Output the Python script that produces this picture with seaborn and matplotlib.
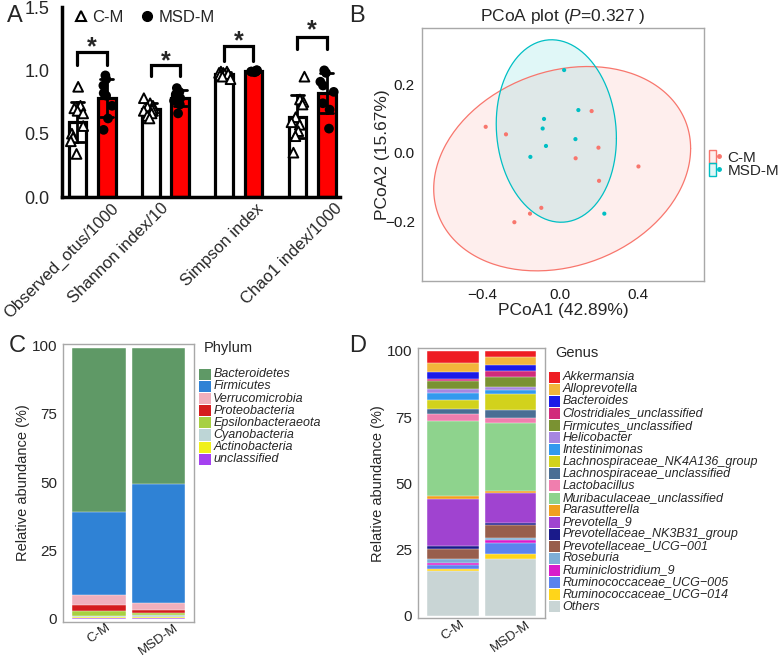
import numpy as np
import pandas as pd
import matplotlib
matplotlib.use('Agg')
import matplotlib.pyplot as plt
import seaborn as sns
from matplotlib.lines import Line2D
from matplotlib.patches import Patch, Rectangle
from matplotlib.legend_handler import HandlerTuple
import matplotlib.transforms as mtransforms
from matplotlib.colors import to_rgba

sns.set_theme(style='white')
plt.rcParams['font.family'] = ['Liberation Sans', 'DejaVu Sans']
plt.rcParams['mathtext.fontset'] = 'custom'
plt.rcParams['mathtext.rm'] = 'Liberation Sans'
plt.rcParams['mathtext.it'] = 'Liberation Sans:italic'

W, H = 779, 659

# ---------------- data: panel A (alpha diversity) ----------------
groups = ['C-M', 'MSD-M']
metrics = ['Observed_otus/1000', 'Shannon index/10', 'Simpson index', 'Chao1 index/1000']
cm_observed = [0.87, 0.72, 0.70, 0.68, 0.66, 0.56, 0.50, 0.47, 0.44, 0.34]
msd_observed = [0.96, 0.93, 0.88, 0.82, 0.80, 0.72, 0.62, 0.53]
cm_shannon = [0.78, 0.74, 0.72, 0.71, 0.70, 0.69, 0.68, 0.66, 0.64, 0.62]
msd_shannon = [0.86, 0.83, 0.81, 0.80, 0.78, 0.76, 0.73, 0.66]
cm_simpson = [0.99, 0.99, 0.98, 0.98, 0.97, 0.97, 0.96, 0.96, 0.95, 0.93]
msd_simpson = [1.0, 1.0, 0.995, 0.995, 0.99, 0.99, 0.99, 0.985]
cm_chao1 = [0.95, 0.77, 0.75, 0.73, 0.63, 0.59, 0.57, 0.52, 0.48, 0.35]
msd_chao1 = [1.00, 0.98, 0.91, 0.88, 0.83, 0.74, 0.69, 0.54]
sig_labels = ['*', '*', '*', '*']
bracket_top = [1.145, 1.04, 1.19, 1.265]
bracket_leg = [1.04, 0.955, 1.07, 1.17]
star_y = [1.24, 1.13, 1.29, 1.37]

# ---------------- data: panel B (PCoA) ----------------
cm_pc1 = [-0.381, -0.277, 0.162, 0.197, 0.080, 0.402, 0.200, -0.096, -0.154, -0.234]
cm_pc2 = [0.076, 0.054, 0.122, 0.015, -0.016, -0.040, -0.082, -0.161, -0.178, -0.203]
msd_pc1 = [0.021, 0.094, -0.082, -0.089, 0.079, -0.072, -0.152, 0.227]
msd_pc2 = [0.242, 0.125, 0.099, 0.071, 0.040, 0.020, -0.012, -0.178]
pcoa_title = r'PCoA plot ($\mathit{P}$=0.327 )'
pc1_label = 'PCoA1 (42.89%)'
pc2_label = 'PCoA2 (15.67%)'

# ---------------- data: panel C (phylum) ----------------
samples = ['C-M', 'MSD-M']
phyla = ['Bacteroidetes', 'Firmicutes', 'Verrucomicrobia', 'Proteobacteria',
         'Epsilonbacteraeota', 'Cyanobacteria', 'Actinobacteria', 'unclassified']
phylum_cm = [60.0, 30.3, 3.4, 2.4, 1.6, 0.6, 0.45, 0.15]
phylum_msd = [49.5, 43.6, 2.4, 1.4, 0.7, 0.6, 0.3, 0.4]
phylum_colors = ['#5F9966', '#2F82D5', '#F0AFBC', '#D51C1E', '#A7D042',
                 '#BDD5D6', '#F0F01C', '#A541F0']

# ---------------- data: panel D (genus) ----------------
genera = ['Akkermansia', 'Alloprevotella', 'Bacteroides', 'Clostridiales_unclassified',
          'Firmicutes_unclassified', 'Helicobacter', 'Intestinimonas',
          'Lachnospiraceae_NK4A136_group', 'Lachnospiraceae_unclassified', 'Lactobacillus',
          'Muribaculaceae_unclassified', 'Parasutterella', 'Prevotella_9',
          'Prevotellaceae_NK3B31_group', 'Prevotellaceae_UCG\u2212001', 'Roseburia',
          'Ruminiclostridium_9', 'Ruminococcaceae_UCG\u2212005', 'Ruminococcaceae_UCG\u2212014',
          'Others']
genus_cm = [4.4, 3.4, 2.8, 0.7, 3.0, 1.7, 2.5, 3.5, 1.9, 2.5, 28.4, 1.1, 17.7,
            1.2, 3.7, 1.5, 0.9, 1.5, 0.9, 16.7]
genus_msd = [2.4, 2.9, 2.2, 2.3, 4.0, 1.0, 1.5, 6.2, 2.9, 1.9, 25.7, 0.5, 11.5,
             0.7, 4.8, 0.9, 1.3, 3.9, 2.0, 21.4]
genus_colors = ['#EE1D23', '#F2B53B', '#1B1BE8', '#D12B7B', '#7A9232', '#A686E0',
                '#3399EE', '#D2D21C', '#4A6E94', '#F07EAE', '#8ED38D', '#F0A01E',
                '#A043D0', '#1A1A8A', '#985E4C', '#7EAED6', '#D81CCB', '#5B83EE',
                '#FFD51A', '#C9D5D5']

fig = plt.figure(figsize=(W / 100, H / 100), dpi=100)


def fax(left, top, right, bottom):
    return fig.add_axes([left / W, 1 - bottom / H, (right - left) / W, (bottom - top) / H])


# ======================= Panel A =======================
axA = fax(62, 7, 340, 197)
rows = []
for metric, cm_vals, msd_vals in zip(metrics,
                                     [cm_observed, cm_shannon, cm_simpson, cm_chao1],
                                     [msd_observed, msd_shannon, msd_simpson, msd_chao1]):
    rows += [(metric, 'C-M', v) for v in cm_vals]
    rows += [(metric, 'MSD-M', v) for v in msd_vals]
dfA = pd.DataFrame(rows, columns=['metric', 'group', 'value'])

sns.barplot(data=dfA, x='metric', y='value', hue='group', order=metrics, hue_order=groups,
            palette={'C-M': 'white', 'MSD-M': '#FF0000'}, saturation=1, errorbar='sd',
            capsize=0.35, err_kws={'color': 'black', 'linewidth': 2.0},
            edgecolor='black', linewidth=2.3, gap=0.4, legend=False, ax=axA)
np.random.seed(3)
sns.stripplot(data=dfA[dfA.group == 'C-M'], x='metric', y='value', hue='group',
              order=metrics, hue_order=groups, dodge=True, jitter=0.2,
              palette={'C-M': 'white', 'MSD-M': 'black'}, marker='^', size=7,
              edgecolor='black', linewidth=1.4, legend=False, ax=axA, zorder=3)
sns.stripplot(data=dfA[dfA.group == 'MSD-M'], x='metric', y='value', hue='group',
              order=metrics, hue_order=groups, dodge=True, jitter=0.2,
              palette={'C-M': 'white', 'MSD-M': 'black'}, marker='o', size=7,
              linewidth=0, legend=False, ax=axA, zorder=3)

for i in range(len(metrics)):
    axA.plot([i - 0.2, i - 0.2, i + 0.2, i + 0.2],
             [bracket_leg[i], bracket_top[i], bracket_top[i], bracket_leg[i]],
             color='black', lw=2.3, solid_joinstyle='miter', clip_on=False, zorder=4)
    st = axA.transData + mtransforms.ScaledTranslation(0, -0.57 * 18 / 72, fig.dpi_scale_trans)
    axA.text(i, star_y[i], sig_labels[i], transform=st, ha='center', va='baseline',
             fontsize=18, fontweight='bold', clip_on=False)

axA.set_xlim(-0.41, 3.38)
axA.set_ylim(0, 1.5)
axA.set_yticks([0, 0.5, 1.0, 1.5])
axA.set_yticklabels(['0.0', '0.5', '1.0', '1.5'], fontsize=13)
axA.set_xticks(range(len(metrics)))
axA.set_xticklabels([])
axA.tick_params(axis='y', direction='out', length=7, width=2.2, color='black', pad=2)
axA.tick_params(axis='x', direction='in', length=8, width=2.2, color='black')
for s in ['top', 'right']:
    axA.spines[s].set_visible(False)
for s in ['left', 'bottom']:
    axA.spines[s].set_linewidth(2.5)
    axA.spines[s].set_color('black')
axA.set_xlabel('')
axA.set_ylabel('')
label_offsets = [0.33, 0.0, 0.31, 0.37]
tA = mtransforms.blended_transform_factory(axA.transData, axA.transAxes)
for i, (lab, off) in enumerate(zip(metrics, label_offsets)):
    axA.text(i + off, -0.047, lab, transform=tA, rotation=45, rotation_mode='anchor',
             ha='right', va='center', fontsize=12)
hA = [Line2D([], [], marker='^', ls='', mfc='white', mec='black', mew=1.5, ms=7),
      Line2D([], [], marker='o', ls='', color='black', ms=7)]
axA.legend(hA, groups, ncol=2, loc='center left', bbox_to_anchor=(74 / W, 1 - 17 / H),
           bbox_transform=fig.transFigure, fontsize=12, frameon=False, handlelength=0.8,
           handletextpad=0.3, columnspacing=1.0, borderpad=0, borderaxespad=0)

# ======================= Panel B =======================
axB = fax(421.7, 28, 704, 281)
dfB = pd.DataFrame({'PC1': cm_pc1 + msd_pc1, 'PC2': cm_pc2 + msd_pc2,
                    'group': ['C-M'] * len(cm_pc1) + ['MSD-M'] * len(msd_pc1)})
pal = {'C-M': '#F8766D', 'MSD-M': '#00BFC4'}


def cov_trob(x, nu=5, maxit=25, tol=0.01):
    n, p = x.shape
    wt = np.ones(n)
    loc = x.mean(axis=0)
    w = np.sqrt(wt)
    X = x - loc
    for _ in range(maxit):
        w0 = w
        X = x - loc
        _, d, vt = np.linalg.svd(np.sqrt(w / w.sum())[:, None] * X, full_matrices=False)
        wX = X @ vt.T @ np.diag(1 / d)
        Q = (wX ** 2).sum(axis=1)
        w = (wt * (nu + p)) / (nu + Q)
        loc = (w[:, None] * x).sum(axis=0) / w.sum()
        if np.all(np.abs(w - w0) < tol):
            break
    sw = np.sqrt(w)[:, None] * X
    return loc, sw.T @ sw / wt.sum()


def ellipse_pts(x, level=0.95, seg=200):
    center, shape = cov_trob(x)
    dfd = x.shape[0] - 1
    fq = (dfd / 2.0) * ((1 - level) ** (-2.0 / dfd) - 1)
    radius = np.sqrt(2 * fq)
    R = np.linalg.cholesky(shape).T
    ang = np.linspace(0, 2 * np.pi, seg + 1)
    circ = np.column_stack([np.cos(ang), np.sin(ang)])
    return center + radius * circ @ R


for g in groups:
    sub = dfB[dfB.group == g][['PC1', 'PC2']].to_numpy()
    e = ellipse_pts(sub)
    axB.fill(e[:, 0], e[:, 1], color=pal[g], alpha=0.12, lw=0, zorder=1)
for g in groups:
    sub = dfB[dfB.group == g][['PC1', 'PC2']].to_numpy()
    e = ellipse_pts(sub)
    axB.plot(e[:, 0], e[:, 1], color=pal[g], lw=0.9, zorder=2)
sns.scatterplot(data=dfB, x='PC1', y='PC2', hue='group', palette=pal, s=9,
                linewidth=0, legend=False, ax=axB, zorder=3)
axB.set_xlim(-0.709, 0.738)
axB.set_ylim(-0.375, 0.365)
axB.set_xticks([-0.4, 0.0, 0.4])
axB.set_xticklabels(['\u22120.4', '0.0', '0.4'], fontsize=11)
axB.set_yticks([-0.2, 0.0, 0.2])
axB.set_yticklabels(['\u22120.2', '0.0', '0.2'], fontsize=11)
axB.tick_params(axis='both', direction='out', length=3, width=0.8, color='#9a9a9a', pad=2,
                labelcolor='#1a1a1a')
for s in axB.spines.values():
    s.set_color('#a8a8a8')
    s.set_linewidth(1.0)
axB.set_xlabel(pc1_label, fontsize=12.5, labelpad=1)
axB.set_ylabel(pc2_label, fontsize=12.5, labelpad=-4)
axB.set_title(pcoa_title, fontsize=12.5, pad=5)
hB = [(Patch(facecolor=to_rgba(pal[g], 0.12), edgecolor=pal[g], lw=1.0),
       Line2D([], [], marker='o', ls='', color=pal[g], ms=2.5)) for g in groups]
axB.legend(hB, groups, loc='center left', bbox_to_anchor=(709 / W, 1 - 164 / H),
           bbox_transform=fig.transFigure, fontsize=11, frameon=False,
           handler_map={tuple: HandlerTuple(ndivide=None)}, handlelength=0.9,
           handleheight=0.9, handletextpad=0.3, labelspacing=-0.12, borderpad=0,
           borderaxespad=0)


# ======================= Panels C and D (stacked bars) =======================
def stacked(ax, names, vals_a, vals_b, colors):
    va = np.array(vals_a)
    vb = np.array(vals_b)
    top_a = va[::-1].cumsum()[::-1]
    top_b = vb[::-1].cumsum()[::-1]
    for i, name in enumerate(names):
        sns.barplot(x=samples, y=[top_a[i], top_b[i]], color=colors[i], saturation=1,
                    width=0.9, errorbar=None, edgecolor='white', linewidth=0.3, ax=ax)
    ax.set_xlim(-0.6, 1.6)
    ax.set_yticks([0, 25, 50, 75, 100])
    ax.set_yticklabels(['0', '25', '50', '75', '100'], fontsize=11)
    ax.set_xticks([0, 1])
    ax.set_xticklabels(samples, fontsize=9.5, rotation=35, ha='center', va='top')
    ax.tick_params(axis='y', direction='out', length=2.5, width=0.8, color='#8c8c8c', pad=2)
    ax.tick_params(axis='x', direction='out', length=0, pad=0)
    for s in ax.spines.values():
        s.set_color('#a8a8a8')
        s.set_linewidth(1.0)
    ax.set_xlabel('')
    ax.set_ylabel('Relative abundance (%)', fontsize=10.5, labelpad=1)


def legend_block(title, title_xy, names, colors, x0, y0, dy, sw, sh, tx):
    fig.text(title_xy[0] / W, 1 - title_xy[1] / H, title, fontsize=10.5, ha='left', va='center')
    for i, (n, c) in enumerate(zip(names, colors)):
        yc = y0 + i * dy
        fig.patches.append(Rectangle((x0 / W, 1 - (yc + sh / 2) / H), sw / W, sh / H,
                                     transform=fig.transFigure, facecolor=c, edgecolor='none'))
        fig.text(tx / W, 1 - yc / H, n, fontsize=9, style='italic', ha='left', va='center')


axC = fax(63.3, 344, 194.3, 621.7)
stacked(axC, phyla, phylum_cm, phylum_msd, phylum_colors)
axC.set_ylim(-1.06, 100.5)
legend_block('Phylum', (204, 348), phyla, phylum_colors, 199.3, 374.3, 12.14, 11.4, 11.2, 213.3)

axD = fax(418.3, 348, 545, 618.3)
stacked(axD, genera, genus_cm, genus_msd, genus_colors)
axD.set_ylim(-1.0, 101.1)
legend_block('Genus', (555.7, 352.7), genera, genus_colors, 549.3, 377.3, 12.07, 10.7, 11.0, 562.7)

# ======================= panel letters =======================
for letter, (x, y) in zip('ABCD', [(7, 16), (349, 16), (9, 346), (349, 346)]):
    fig.text(x / W, 1 - y / H, letter, fontsize=17, ha='left', va='center')

fig.savefig('out.png', dpi=100)
